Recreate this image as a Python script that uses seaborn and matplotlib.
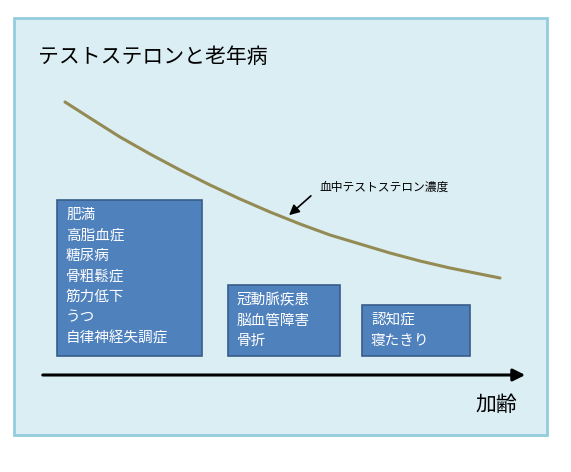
import matplotlib
matplotlib.use("Agg")
import matplotlib.pyplot as plt
import pandas as pd
import seaborn as sns
from matplotlib.patches import Rectangle

# curve of testosterone level (pixel coordinates of the diagram)
curve_x = [65, 90, 120, 150, 180, 210, 240, 270, 300, 330, 360, 390, 420, 450, 480, 500]
curve_y = [102, 118, 137, 154, 170, 185, 199, 212, 224, 235, 244, 253, 261, 268, 274, 278]

# disease boxes
box_left = [57, 228, 362]
box_right = [202, 340, 470]
box_top = [200, 285, 305]
box_bottom = [356, 356, 356]
box_texts = [
    ["肥満", "高脂血症", "糖尿病", "骨粗鬆症", "筋力低下", "うつ", "自律神経失調症"],
    ["冠動脈疾患", "脳血管障害", "骨折"],
    ["認知症", "寝たきり"],
]

sns.set_theme(style="white")
plt.rcParams["font.family"] = ["Noto Sans CJK JP", "DejaVu Sans"]

fig = plt.figure(figsize=(5.71, 4.72), dpi=100)
ax = fig.add_axes([0, 0, 1, 1])
ax.set_xlim(0, 571)
ax.set_ylim(472, 0)
ax.axis("off")

ax.add_patch(Rectangle((14, 18), 533, 417, facecolor="#dbeef4", edgecolor="#93cddd", linewidth=2))

ax.text(38, 57, "テストステロンと老年病", fontsize=15, va="center", ha="left", color="black")

df = pd.DataFrame({"x": curve_x, "y": curve_y})
sns.lineplot(data=df, x="x", y="y", ax=ax, color="#948a54", linewidth=2.2, sort=False)

heights = [b - t for t, b in zip(box_top, box_bottom)]
widths = [r - l for l, r in zip(box_left, box_right)]
ax.bar(box_left, heights, width=widths, bottom=box_top, align="edge",
       color="#4f81bd", edgecolor="#385d8a", linewidth=1.2)
for l, t, lines in zip(box_left, box_top, box_texts):
    for i, s in enumerate(lines):
        ax.text(l + 9, t + 15 + i * 20.5, s, fontsize=10.5, color="white", va="center", ha="left")

ax.annotate("", xy=(528, 375), xytext=(40, 375),
            arrowprops=dict(arrowstyle="-|>,head_width=0.3,head_length=0.6", color="black", lw=2.2))
ax.text(475, 405, "加齢", fontsize=15, va="center", ha="left", color="black")

ax.text(320, 187, "血中テストステロン濃度", fontsize=8.5, va="center", ha="left", color="black")
ax.annotate("", xy=(287, 217), xytext=(313, 194),
            arrowprops=dict(arrowstyle="-|>,head_width=0.25,head_length=0.5", color="black", lw=1.2))

fig.savefig("out.png", dpi=100, facecolor="white")
